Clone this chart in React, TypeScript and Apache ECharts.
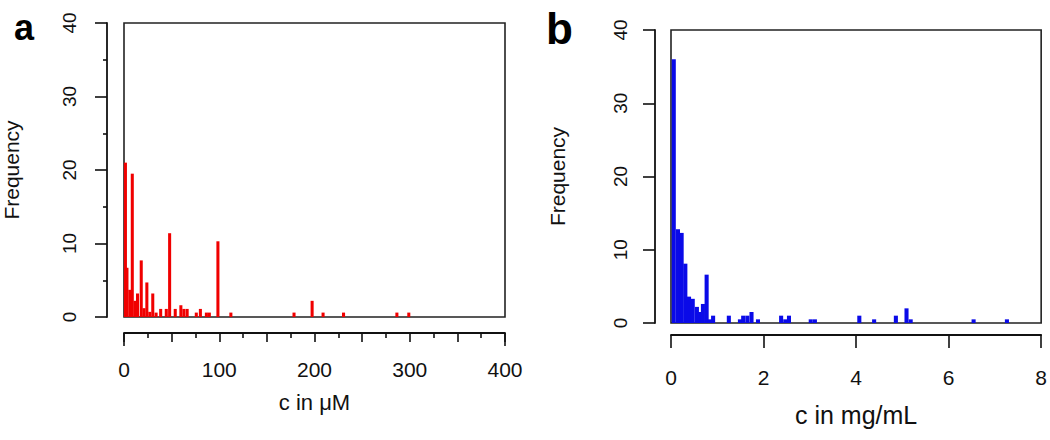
import React, { useEffect, useRef } from "react";
import * as echarts from "echarts";

// Panel a: concentration in µM (bar centre) and frequency
const A_CENTERS = [1.5, 3.1, 6.1, 8.7, 11.6, 14.2, 18.1, 21, 24, 27.1, 30.2, 33.7, 38.5, 44.4, 47.9, 53.8, 59.7, 62.9, 66.3, 75.9, 80.2, 86.5, 89.6, 98.6, 112.2, 178.5, 197.5, 209, 230.5, 286.5, 299];
const A_FREQ = [21, 6.7, 3.7, 19.5, 2.2, 3.2, 7.7, 1.2, 4.7, 0.7, 3.2, 0.6, 1.1, 1.1, 11.4, 1.1, 1.6, 1.1, 1.1, 0.6, 1.1, 0.6, 0.6, 10.3, 0.6, 0.6, 2.2, 0.6, 0.6, 0.6, 0.6];
const A_BIN_W = 3.2;

// Panel b: concentration in mg/mL (bar centre) and frequency
const B_CENTERS = [0.06, 0.15, 0.23, 0.31, 0.39, 0.47, 0.56, 0.63, 0.69, 0.77, 0.84, 0.91, 1.25, 1.49, 1.56, 1.65, 1.74, 1.88, 2.38, 2.47, 2.55, 3.02, 3.11, 4.07, 4.39, 4.86, 5.09, 5.18, 6.54, 7.26];
const B_FREQ = [36, 12.8, 12.3, 8.1, 3.6, 3.3, 2.2, 1.5, 2.6, 6.6, 0.5, 1.0, 1.0, 0.5, 1.0, 1.0, 1.5, 0.5, 1.0, 0.5, 1.0, 0.5, 0.5, 1.0, 0.5, 1.0, 2.0, 0.5, 0.5, 0.5];
const B_BIN_W = 0.088;

const Y_TICKS = [0, 10, 20, 30, 40];
const A_X_LABELS = [0, 100, 200, 300, 400];
const B_X_LABELS = [0, 2, 4, 6, 8];

const FONT = "'Liberation Sans', Arial, sans-serif";
const AXIS_COLOR = "#111";

function histSeries(centers: number[], freq: number[], w: number, color: string, idx: number) {
  return {
    type: "custom",
    xAxisIndex: idx === 0 ? 0 : 2,
    yAxisIndex: idx,
    clip: true,
    data: centers.map((c, i) => [c, freq[i]]),
    renderItem: (params: any, api: any) => {
      const c = api.value(0);
      const h = api.value(1);
      const p0 = api.coord([c - w / 2, h]);
      const p1 = api.coord([c + w / 2, 0]);
      return {
        type: "rect",
        shape: { x: p0[0], y: p0[1], width: p1[0] - p0[0], height: p1[1] - p0[1] },
        style: { fill: color },
      };
    },
  };
}

export default function App() {
  const ref = useRef<HTMLDivElement>(null);
  useEffect(() => {
    document.body.style.margin = "0";
    document.body.style.overflow = "hidden";
    if (!ref.current) return;
    const chart = echarts.init(ref.current, undefined, { renderer: "svg" });
    const yAxisBase = (offset: number, minor: boolean, gridIndex: number, nameGap: number, labelMargin: number) => ({
      type: "value",
      gridIndex,
      position: "left",
      min: Y_TICKS[0],
      max: Y_TICKS[Y_TICKS.length - 1],
      interval: 10,
      offset,
      name: "Frequency",
      nameLocation: "middle",
      nameGap,
      nameTextStyle: { fontSize: 21, color: "#111", fontFamily: FONT },
      axisLine: { show: true, onZero: false, lineStyle: { color: AXIS_COLOR, width: 1.8 } },
      axisTick: { show: true, length: 12, lineStyle: { color: AXIS_COLOR, width: 1.6 } },
      minorTick: { show: minor, splitNumber: 2, length: 4, lineStyle: { color: AXIS_COLOR, width: 1.6 } },
      splitLine: { show: false },
      axisLabel: { rotate: 90, fontSize: 19, color: "#111", margin: labelMargin, fontFamily: FONT },
    });
    chart.setOption({
      animation: false,
      textStyle: { fontFamily: FONT },
      grid: [
        { left: 121, width: 384, top: 23, height: 294, show: true, borderColor: "#222", borderWidth: 1.6, backgroundColor: "transparent" },
        { left: 671, width: 371, top: 30, height: 293, show: true, borderColor: "#222", borderWidth: 1.6, backgroundColor: "transparent" },
      ],
      xAxis: [
        {
          type: "value",
          gridIndex: 0,
          position: "bottom",
          min: A_X_LABELS[0],
          max: A_X_LABELS[A_X_LABELS.length - 1],
          interval: 50,
          offset: 16,
          name: "c in μM",
          nameLocation: "middle",
          nameGap: 58,
          nameTextStyle: { fontSize: 22, color: "#111", fontFamily: FONT },
          axisLine: { show: true, onZero: false, lineStyle: { color: AXIS_COLOR, width: 1.8 } },
          axisTick: { show: true, length: 9, lineStyle: { color: AXIS_COLOR, width: 1.6 } },
          minorTick: { show: true, splitNumber: 2, length: 5, lineStyle: { color: AXIS_COLOR, width: 1.6 } },
          splitLine: { show: false },
          axisLabel: {
            fontSize: 21,
            color: "#111",
            margin: 26,
            fontFamily: FONT,
            formatter: (v: number) => (A_X_LABELS.includes(v) ? String(v) : ""),
          },
        },
        {
          type: "value",
          gridIndex: 0,
          position: "bottom",
          min: A_X_LABELS[0],
          max: A_X_LABELS[A_X_LABELS.length - 1],
          interval: 400,
          offset: 16,
          axisLine: { show: false, onZero: false },
          axisTick: { show: true, length: 13, lineStyle: { color: AXIS_COLOR, width: 1.6 } },
          splitLine: { show: false },
          axisLabel: { show: false },
        },
        {
          type: "value",
          gridIndex: 1,
          position: "bottom",
          min: B_X_LABELS[0],
          max: B_X_LABELS[B_X_LABELS.length - 1],
          interval: 2,
          offset: 12,
          name: "c in mg/mL",
          nameLocation: "middle",
          nameGap: 67,
          nameTextStyle: { fontSize: 25, color: "#111", fontFamily: FONT },
          axisLine: { show: true, onZero: false, lineStyle: { color: AXIS_COLOR, width: 1.8 } },
          axisTick: { show: true, length: 13, lineStyle: { color: AXIS_COLOR, width: 1.6 } },
          splitLine: { show: false },
          axisLabel: { fontSize: 21, color: "#111", margin: 32, fontFamily: FONT },
        },
      ],
      yAxis: [yAxisBase(17, true, 0, 85, 28), yAxisBase(16, false, 1, 87, 25)],
      series: [
        histSeries(A_CENTERS, A_FREQ, A_BIN_W, "#f00000", 0),
        histSeries(B_CENTERS, B_FREQ, B_BIN_W, "#0a0ae8", 1),
      ],
      graphic: [
        { type: "text", left: 14, top: 9, style: { text: "a", fontSize: 36, fontWeight: "bold", fill: "#000", fontFamily: FONT } },
        { type: "text", left: 546, top: 6, style: { text: "b", fontSize: 44, fontWeight: "bold", fill: "#000", fontFamily: FONT } },
      ],
    });
    return () => chart.dispose();
  }, []);
  return <div ref={ref} style={{ width: 1050, height: 440 }} />;
}
